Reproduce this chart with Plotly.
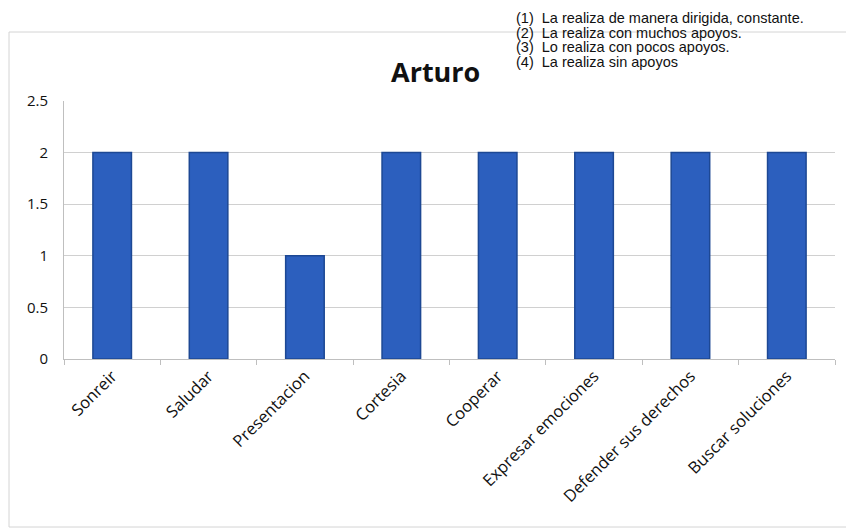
import plotly.graph_objects as go

categories = ["Sonreir", "Saludar", "Presentacion", "Cortesia", "Cooperar",
              "Expresar emociones", "Defender sus derechos", "Buscar soluciones"]
values = [2, 2, 1, 2, 2, 2, 2, 2]
y_ticks = [0, 0.5, 1, 1.5, 2, 2.5]
y_tick_labels = ["0", "0.5", "1", "1.5", "2", "2.5"]
title_text = "Arturo"
scale_notes = ["(1)  La realiza de manera dirigida, constante.",
               "(2)  La realiza con muchos apoyos.",
               "(3)  Lo realiza con pocos apoyos.",
               "(4)  La realiza sin apoyos"]

# the page body adds an 8px offset; work in target-image pixels and subtract it
OFF = 8
W, H = 854 - OFF, 529 - OFF
ml, mr, mt, mb = 64 - OFF, 19, 101 - OFF, 170
pw, ph = W - ml - mr, H - mt - mb

def px(x):
    return (x - OFF - ml) / pw

def py(y):
    return (H - mb - (y - OFF)) / ph

fig = go.Figure(go.Bar(
    x=categories, y=values,
    marker=dict(color="#2C5FBE", line=dict(color="#1D4894", width=1.5)),
))

notes_html = "<br>".join('<span style="font-size:14.5px">' + s + "</span>" for s in scale_notes)
annotations = [
    dict(text="<b>" + title_text + "</b>", xref="paper", yref="paper",
         x=px(435), y=py(71), xanchor="center", yanchor="middle",
         showarrow=False, font=dict(size=27, family="Open Sans, sans-serif", color="#111")),
    dict(text=notes_html, xref="paper", yref="paper",
         x=px(514), y=py(8), xanchor="left", yanchor="top", align="left",
         showarrow=False,
         font=dict(size=11.2, family="Liberation Sans, Arial, sans-serif", color="#111")),
]

fig.update_layout(
    width=W, height=H,
    margin=dict(l=ml, r=mr, t=mt, b=mb),
    paper_bgcolor="white", plot_bgcolor="white",
    bargap=0.6,
    showlegend=False,
    font=dict(family="Open Sans, Lato, sans-serif", color="#222"),
    annotations=annotations,
    shapes=[
        dict(type="rect", xref="paper", yref="paper",
             x0=px(9), x1=px(851), y0=py(527), y1=py(32),
             line=dict(color="#D4D4D4", width=1), fillcolor="rgba(0,0,0,0)", layer="below"),
    ],
)

fig.update_xaxes(
    automargin=False,
    showline=True, linecolor="#BFBFBF", linewidth=1,
    ticks="outside", tickson="boundaries", ticklen=5, tickcolor="#BFBFBF",
    tickangle=-45, tickfont=dict(size=16.5, family="Open Sans, sans-serif", color="#111"),
    showgrid=False,
)
fig.update_yaxes(
    automargin=False,
    range=[0, 2.5], tickvals=y_ticks, ticktext=y_tick_labels,
    showgrid=True, gridcolor="#D0D0D0", gridwidth=1,
    showline=True, linecolor="#BFBFBF", linewidth=1,
    ticks="", ticklabelstandoff=12,
    tickfont=dict(size=15, family="Open Sans, sans-serif", color="#111"),
    zeroline=False,
)

fig.write_html("out.html")
